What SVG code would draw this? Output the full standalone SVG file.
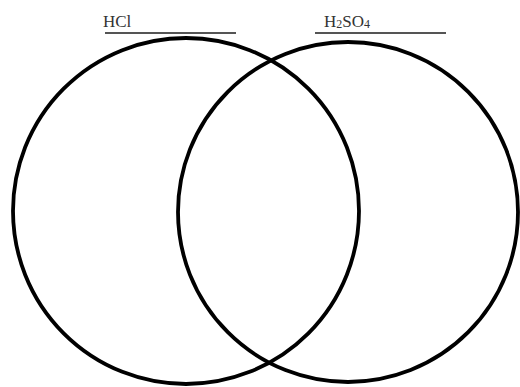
<svg xmlns="http://www.w3.org/2000/svg" width="520" height="387" viewBox="0 0 520 387">
<style>
.label{font-family:"Liberation Serif","Times New Roman",serif;font-size:17px;fill:#333}
.rule{stroke:#555;stroke-width:1.8}
.set{fill:none;stroke:#000;stroke-width:3.8}
</style>
<rect width="520" height="387" fill="#fff"/>
<g id="hcl">
<text class="label" x="103" y="27">HCl</text>
<line class="rule" x1="105" y1="33" x2="236" y2="33"/>
<circle class="set" cx="186" cy="211" r="173"/>
</g>
<g id="h2so4">
<text class="label" x="324" y="27">H<tspan font-size="12" dy="1">2</tspan><tspan dy="-1">SO</tspan><tspan font-size="12" dy="1">4</tspan></text>
<line class="rule" x1="315" y1="33" x2="446" y2="33"/>
<circle class="set" cx="348" cy="212" r="170"/>
</g>
<g id="connectors"/>
</svg>
